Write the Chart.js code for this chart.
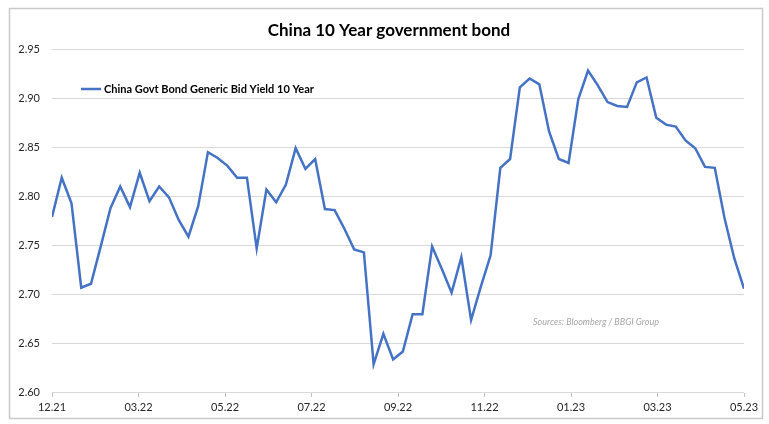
<!DOCTYPE html>
<html>
<head>
<meta charset="utf-8">
<script src="https://cdn.jsdelivr.net/npm/chart.js@4"></script>
<style>
  html, body { margin: 0; padding: 0; background: #ffffff; }
  #wrap { position: absolute; left: 0; top: 0; width: 769px; height: 424px; }
</style>
</head>
<body>
<div id="wrap"><canvas id="c" width="769" height="424"></canvas></div>
<script>
// ---- data ----
const chartTitle = "China 10 Year government bond";
const seriesName = "China Govt Bond Generic Bid Yield 10 Year";
const sourceNote = "Sources: Bloomberg / BBGI Group";
const xTickLabels = ["12.21", "03.22", "05.22", "07.22", "09.22", "11.22", "01.23", "03.23", "05.23"];
const yields = [
  2.779, 2.819, 2.793, 2.707, 2.711, 2.749, 2.788, 2.810, 2.789, 2.824,
  2.795, 2.810, 2.799, 2.776, 2.759, 2.790, 2.845, 2.839, 2.831, 2.819,
  2.819, 2.747, 2.807, 2.794, 2.812, 2.849, 2.828, 2.838, 2.787, 2.786,
  2.767, 2.746, 2.743, 2.629, 2.660, 2.634, 2.642, 2.680, 2.680, 2.749,
  2.726, 2.702, 2.738, 2.674, 2.708, 2.740, 2.829, 2.838, 2.911, 2.920,
  2.914, 2.866, 2.838, 2.834, 2.899, 2.928, 2.913, 2.896, 2.892, 2.891,
  2.916, 2.921, 2.880, 2.873, 2.871, 2.857, 2.849, 2.830, 2.829, 2.778,
  2.737, 2.706
];
const yMin = 2.60, yMax = 2.95, yStep = 0.05;

// ---- chart ----
const lineColor = "#4472C4";
const FONT = "Lato, 'Open Sans', 'Noto Sans', sans-serif";
const lastIdx = yields.length - 1;

const framePlugin = {
  id: "frame",
  beforeDraw(chart) {
    const ctx = chart.ctx;
    ctx.save();
    ctx.fillStyle = "#ffffff";
    ctx.fillRect(0, 0, chart.width, chart.height);
    ctx.strokeStyle = "#c9c9c9";
    ctx.lineWidth = 1.5;
    ctx.strokeRect(9.5, 8.5, 753, 410);
    ctx.restore();
  },
  afterDraw(chart) {
    const ctx = chart.ctx;
    const a = chart.chartArea;
    ctx.save();
    // title
    ctx.fillStyle = "#000000";
    ctx.font = "bold 17px " + FONT;
    ctx.textAlign = "center";
    ctx.textBaseline = "middle";
    ctx.fillText(chartTitle, 389, 31);
    // legend inside the plot
    const lx = a.left + 29, ly = a.top + 40;
    ctx.strokeStyle = lineColor;
    ctx.lineWidth = 2.5;
    ctx.beginPath();
    ctx.moveTo(lx, ly);
    ctx.lineTo(lx + 20, ly);
    ctx.stroke();
    ctx.font = "bold 11px " + FONT;
    ctx.textAlign = "left";
    ctx.fillText(chart.data.datasets[0].label, lx + 23, ly);
    // source note
    ctx.fillStyle = "#a6a6a6";
    ctx.font = "italic 9px " + FONT;
    ctx.fillText(sourceNote, 533, 322);
    ctx.restore();
  }
};

new Chart(document.getElementById("c"), {
  type: "line",
  data: {
    datasets: [{
      label: seriesName,
      data: yields.map((v, i) => ({ x: i, y: v })),
      borderColor: lineColor,
      borderWidth: 2.5,
      pointRadius: 0,
      tension: 0,
      fill: false
    }]
  },
  options: {
    responsive: false,
    animation: false,
    layout: { padding: { left: 8, right: 25, top: 49, bottom: 6 } },
    plugins: {
      legend: { display: false },
      tooltip: { enabled: false },
      title: { display: false }
    },
    scales: {
      x: {
        type: "linear",
        min: 0,
        max: lastIdx,
        afterBuildTicks(scale) {
          const n = xTickLabels.length - 1;
          scale.ticks = xTickLabels.map((_, k) => ({ value: k * lastIdx / n }));
        },
        ticks: {
          autoSkip: false,
          maxRotation: 0,
          color: "#262626",
          font: { family: FONT, size: 11 },
          padding: 4,
          callback: (v, i) => xTickLabels[i]
        },
        grid: { drawOnChartArea: false, drawTicks: true, tickLength: 4, color: "#bfbfbf" },
        border: { display: false }
      },
      y: {
        min: yMin,
        max: yMax,
        afterFit(scale) { scale.width = 44; },
        ticks: {
          stepSize: yStep,
          color: "#262626",
          font: { family: FONT, size: 11 },
          padding: 12,
          callback: v => Number(v).toFixed(2)
        },
        grid: { color: "#d9d9d9", drawTicks: false, lineWidth: 1 },
        border: { display: false }
      }
    }
  },
  plugins: [framePlugin]
});
</script>
</body>
</html>
